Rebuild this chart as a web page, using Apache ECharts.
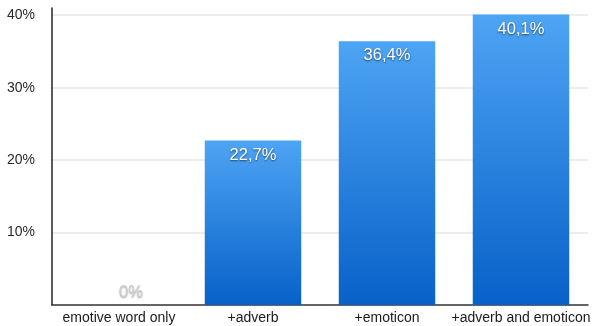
<!DOCTYPE html>
<html>
<head>
<meta charset="utf-8">
<script src="https://cdn.jsdelivr.net/npm/echarts@6/dist/echarts.min.js"></script>
<style>
  html, body { margin: 0; padding: 0; background: #fff; }
  #chart { width: 595px; height: 326px; }
</style>
</head>
<body>
<div id="chart"></div>
<script>
// Share of items per cue combination (percent)
const categories = ['emotive word only', '+adverb', '+emoticon', '+adverb and emoticon'];
const values = [0, 22.7, 36.4, 40.1];
const yTicks = [10, 20, 30, 40];

const fmtPct = v => String(v).replace('.', ',') + '%';
const FONT = 'Liberation Sans, Arial, sans-serif';

const chart = echarts.init(document.getElementById('chart'), null, { renderer: 'canvas' });
chart.setOption({
  animation: false,
  grid: { left: 52, right: 7, top: 8, bottom: 21, containLabel: false },
  xAxis: {
    type: 'category',
    data: categories,
    axisLine: { show: true, lineStyle: { color: '#333', width: 1.5 } },
    axisTick: { show: false },
    axisLabel: { color: '#1a1a1a', fontSize: 14, fontFamily: FONT, margin: 6, interval: 0 }
  },
  yAxis: {
    type: 'value',
    min: 0,
    max: 41,
    interval: 10,
    axisLine: { show: true, lineStyle: { color: '#222', width: 1.5 } },
    axisTick: { show: false },
    axisLabel: {
      color: '#2a2a2a', fontSize: 14, fontFamily: FONT,
      margin: 17, showMinLabel: false, showMaxLabel: false,
      formatter: v => (yTicks.includes(v) ? v + '%' : '')
    },
    splitLine: {
      show: true, showMinLine: false, showMaxLine: false,
      lineStyle: { color: '#e6e6e6', width: 1.5 }
    }
  },
  series: [{
    type: 'bar',
    data: values.map(v => v === 0
      ? { value: v, label: { color: '#cfcfcf', textShadowColor: 'rgba(0,0,0,0.4)', textShadowBlur: 1.5 } }
      : v),
    barCategoryGap: '28%',
    itemStyle: {
      color: new echarts.graphic.LinearGradient(0, 0, 0, 1, [
        { offset: 0, color: '#4ea4f4' },
        { offset: 1, color: '#0761c8' }
      ])
    },
    label: {
      show: true,
      position: 'insideTop',
      distance: 6,
      color: '#fff',
      fontSize: 16.5,
      fontFamily: FONT,
      textShadowColor: 'rgba(0,0,0,0.6)',
      textShadowBlur: 2,
      textShadowOffsetX: 0,
      textShadowOffsetY: 1,
      formatter: p => fmtPct(p.value)
    },
    labelLayout: p => (p.dataIndex === 0 ? { y: p.rect.y - 21 } : {})
  }]
});
</script>
</body>
</html>
